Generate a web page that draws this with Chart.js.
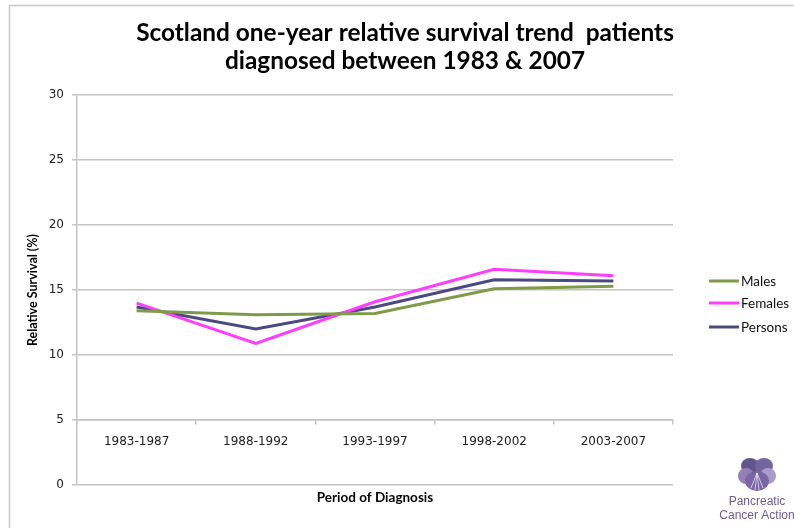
<!DOCTYPE html>
<html>
<head>
<meta charset="utf-8">
<script src="https://cdn.jsdelivr.net/npm/chart.js@4/dist/chart.umd.min.js"></script>
<style>
  html, body { margin: 0; padding: 0; background: #fff; }
  #wrap { width: 794px; height: 528px; position: relative; }
</style>
</head>
<body>
<div id="wrap"><canvas id="c" width="794" height="528"></canvas></div>
<script>
// Periods of diagnosis
const periods = ['1983-1987', '1988-1992', '1993-1997', '1998-2002', '2003-2007'];
// One-year relative survival (%)
const males   = [13.4, 13.1, 13.2, 15.1, 15.3];
const females = [14.0, 10.9, 14.1, 16.6, 16.1];
const persons = [13.7, 12.0, 13.7, 15.8, 15.7];
// Y axis range and step
const yMin = 0, yMax = 30, yStep = 5;

const GRID = '#c4c4c4';

// Outer frame of the chart sheet (top and left edges)
const framePlugin = {
  id: 'frame',
  beforeDraw(chart) {
    const ctx = chart.ctx;
    ctx.save();
    ctx.strokeStyle = '#c8c8c8';
    ctx.lineWidth = 1.5;
    ctx.beginPath();
    ctx.moveTo(9.5, 528);
    ctx.lineTo(9.5, 5.5);
    ctx.lineTo(794, 5.5);
    ctx.stroke();
    ctx.restore();
  }
};

// Legend: short line sample followed by series name
const sideLegend = {
  id: 'sideLegend',
  afterDraw(chart) {
    const ctx = chart.ctx;
    const x0 = 709, x1 = 739;
    const ys = [281, 303, 327];
    ctx.save();
    ctx.font = '13.5px Lato';
    ctx.textBaseline = 'middle';
    ctx.textAlign = 'left';
    chart.data.datasets.forEach((ds, i) => {
      const y = ys[i];
      ctx.strokeStyle = ds.borderColor;
      ctx.lineWidth = 3;
      ctx.beginPath();
      ctx.moveTo(x0, y);
      ctx.lineTo(x1, y);
      ctx.stroke();
      ctx.fillStyle = '#111';
      ctx.fillText(ds.label, x1 + 2, y + 1);
    });
    ctx.restore();
  }
};

// Charity logo in the bottom-right corner
const logoPlugin = {
  id: 'logo',
  afterDraw(chart) {
    const ctx = chart.ctx;
    const cx = 757, cy = 475;
    ctx.save();
    const petals = [
      [cx - 7, cy - 9, 9, 8, '#62548c'],
      [cx + 7, cy - 9, 9, 8, '#74649e'],
      [cx - 11, cy + 1, 8, 8, '#9381b6'],
      [cx + 11, cy + 1, 8, 8, '#ab9bca'],
      [cx, cy + 6, 12, 10, '#7b66a5']
    ];
    petals.forEach(p => {
      ctx.fillStyle = p[4];
      ctx.beginPath();
      ctx.ellipse(p[0], p[1], p[2], p[3], 0, 0, Math.PI * 2);
      ctx.fill();
    });
    ctx.strokeStyle = 'rgba(255,255,255,0.8)';
    ctx.lineWidth = 0.8;
    [[-6, 13], [-2, 15], [2, 15], [6, 13]].forEach(d => {
      ctx.beginPath();
      ctx.moveTo(cx, cy - 2);
      ctx.lineTo(cx + d[0], cy + d[1]);
      ctx.stroke();
    });
    ctx.fillStyle = '#6b5c91';
    ctx.font = '12px "Liberation Sans"';
    ctx.textAlign = 'center';
    ctx.textBaseline = 'middle';
    ctx.fillText('Pancreatic', cx, 502);
    ctx.fillText('Cancer Action', cx, 516);
    ctx.restore();
  }
};

new Chart(document.getElementById('c'), {
  type: 'line',
  data: {
    labels: periods,
    datasets: [
      { label: 'Males',   data: males,   borderColor: '#7f9a48', backgroundColor: '#7f9a48' },
      { label: 'Females', data: females, borderColor: '#ff3dff', backgroundColor: '#ff3dff' },
      { label: 'Persons', data: persons, borderColor: '#4b4a80', backgroundColor: '#4b4a80' }
    ]
  },
  options: {
    responsive: false,
    animation: false,
    devicePixelRatio: 1,
    layout: { padding: { left: 16, right: 0, top: 0, bottom: 43 } },
    elements: {
      line: { borderWidth: 3, tension: 0, fill: false },
      point: { radius: 0, hoverRadius: 0 }
    },
    plugins: {
      legend: { display: false },
      tooltip: { enabled: false },
      title: {
        display: true,
        text: ['Scotland one-year relative survival trend  patients', 'diagnosed between 1983 & 2007'],
        color: '#000',
        font: { family: 'Lato', size: 24.4, weight: 'bold', lineHeight: 1.15 },
        padding: { top: 19, bottom: 20 }
      }
    },
    scales: {
      x: {
        type: 'category',
        position: { y: 5 },
        offset: true,
        grid: { drawOnChartArea: false, drawTicks: true, tickLength: 4, color: GRID, lineWidth: 1.5, offset: true },
        border: { display: true, color: GRID, width: 1.5 },
        ticks: { color: '#222', font: { family: 'DejaVu Sans', size: 12 }, padding: 11, maxRotation: 0 },
        title: {
          display: true,
          text: 'Period of Diagnosis',
          color: '#000',
          font: { family: 'Lato', size: 13.5, weight: 'bold' },
          padding: { top: 29, bottom: 0 }
        }
      },
      y: {
        min: yMin,
        max: yMax,
        position: 'left',
        afterFit(scale) { scale.width = 61; },
        grid: { color: GRID, lineWidth: 1.5, tickLength: 5 },
        border: { display: true, color: GRID, width: 1.5 },
        ticks: { stepSize: yStep, color: '#222', font: { family: 'DejaVu Sans', size: 12 }, padding: 8 },
        title: {
          display: true,
          text: 'Relative Survival (%)',
          color: '#000',
          font: { family: 'Lato', size: 12.5, weight: 'bold' },
          padding: { top: 9, bottom: 0 }
        }
      },
      // empty band on the right that holds the legend
      side: {
        type: 'linear',
        position: 'right',
        display: true,
        afterFit(scale) { scale.width = 121; },
        grid: { display: false, drawTicks: false },
        border: { display: false },
        ticks: { display: false }
      }
    }
  },
  plugins: [framePlugin, sideLegend, logoPlugin]
});
</script>
</body>
</html>
